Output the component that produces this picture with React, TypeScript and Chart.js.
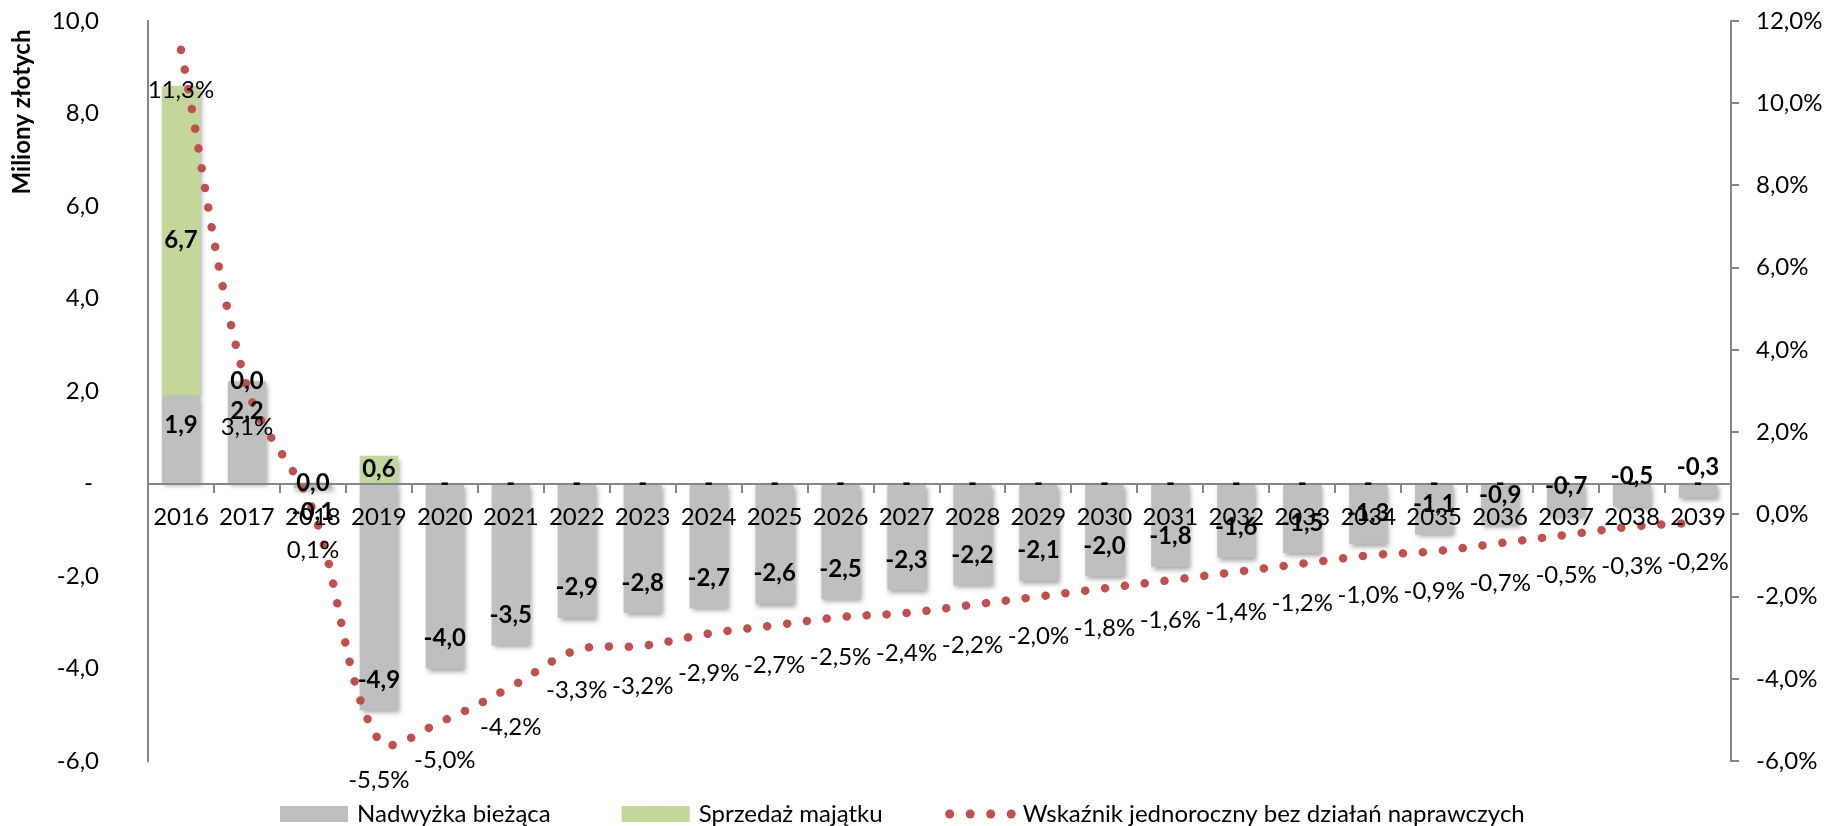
import React, { useEffect, useRef } from 'react';
import { Chart, registerables } from 'chart.js';

Chart.register(...registerables);

const years = ['2016', '2017', '2018', '2019', '2020', '2021', '2022', '2023', '2024', '2025', '2026', '2027', '2028', '2029', '2030', '2031', '2032', '2033', '2034', '2035', '2036', '2037', '2038', '2039'];
const currentSurplus = [1.9, 2.2, -0.1, -4.9, -4.0, -3.5, -2.9, -2.8, -2.7, -2.6, -2.5, -2.3, -2.2, -2.1, -2.0, -1.8, -1.6, -1.5, -1.3, -1.1, -0.9, -0.7, -0.5, -0.3];
const assetSales = [6.7, 0.02, 0.02, 0.6, 0, 0, 0, 0, 0, 0, 0, 0, 0, 0, 0, 0, 0, 0, 0, 0, 0, 0, 0, 0];
const oneYearIndicator = [11.3, 3.1, 0.1, -5.5, -5.0, -4.2, -3.3, -3.2, -2.9, -2.7, -2.5, -2.4, -2.2, -2.0, -1.8, -1.6, -1.4, -1.2, -1.0, -0.9, -0.7, -0.5, -0.3, -0.2];
const seriesNames = ['Nadwyżka bieżąca', 'Sprzedaż majątku', 'Wskaźnik jednoroczny bez działań naprawczych'];
const leftAxisTitle = 'Miliony złotych';
const leftRange = [-6, 10];
const rightRange = [-6, 12];
const tickStep = 2;

const FONT = 'Lato, "Open Sans", sans-serif';
const GRAY = '#BFBFBF';
const GREEN = '#C3D69B';
const RED = '#C0504D';
const AXIS = '#868686';

const fmt = (v: number) => {
  const s = v.toFixed(1).replace('.', ',');
  return s === '-0,0' ? '0,0' : s;
};

const shadowPlugin = {
  id: 'barShadow',
  beforeDatasetDraw(chart: any, args: any) {
    if (args.meta.type === 'bar') {
      const ctx = chart.ctx;
      ctx.save();
      ctx.shadowColor = 'rgba(0,0,0,0.35)';
      ctx.shadowBlur = 5;
      ctx.shadowOffsetX = 2;
      ctx.shadowOffsetY = 3;
    }
  },
  afterDatasetDraw(chart: any, args: any) {
    if (args.meta.type === 'bar') chart.ctx.restore();
  },
};

const labelPlugin = {
  id: 'valueLabels',
  afterDraw(chart: any) {
    const ctx = chart.ctx;
    const zeroY = chart.scales.y.getPixelForValue(0);
    ctx.save();
    ctx.textAlign = 'center';
    ctx.textBaseline = 'middle';
    ctx.fillStyle = '#000';

    // line labels
    ctx.font = `24px ${FONT}`;
    chart.getDatasetMeta(2).data.forEach((pt: any, i: number) => {
      ctx.fillText(fmt(oneYearIndicator[i]) + '%', pt.x, pt.y + 40);
    });

    ctx.font = `bold 24px ${FONT}`;
    // gray bar labels (inside end)
    chart.getDatasetMeta(0).data.forEach((bar: any, i: number) => {
      const v = currentSurplus[i];
      const { x, y } = bar.getProps(['x', 'y'], true);
      let ly;
      if (Math.abs(v) < 0.2) ly = v < 0 ? y + 24 : y - 24;
      else ly = v >= 0 ? y + 30 : y - 30;
      ctx.fillText(fmt(v), x, ly);
    });
    // green bar labels (center)
    chart.getDatasetMeta(1).data.forEach((bar: any, i: number) => {
      const v = assetSales[i];
      const { x, y, base } = bar.getProps(['x', 'y', 'base'], true);
      if (v === 0) ctx.fillText('-', x, zeroY);
      else ctx.fillText(fmt(v), x, (y + base) / 2);
    });

    // left axis title
    ctx.save();
    ctx.translate(22, 112);
    ctx.rotate(-Math.PI / 2);
    ctx.font = `bold 24px ${FONT}`;
    ctx.fillText(leftAxisTitle, 0, 0);
    ctx.restore();

    // legend
    const colors = [GRAY, GREEN, RED];
    const symW = 68;
    const symGap = 9;
    const itemGaps = [71, 63];
    ctx.font = `24px ${FONT}`;
    let x = 280;
    const ly = 814;
    seriesNames.forEach((name, i) => {
      ctx.fillStyle = colors[i];
      if (i < 2) {
        ctx.fillRect(x, ly - 8, symW, 16);
      } else {
        for (let k = 0; k < 4; k++) {
          ctx.beginPath();
          ctx.arc(x + 4 + k * 20.5, ly, 4.5, 0, Math.PI * 2);
          ctx.fill();
        }
      }
      ctx.fillStyle = '#000';
      ctx.textAlign = 'left';
      ctx.fillText(name, x + symW + symGap, ly);
      x += symW + symGap + ctx.measureText(name).width + (itemGaps[i] || 0);
    });
    ctx.restore();
  },
};

export default function App() {
  const ref = useRef<HTMLCanvasElement | null>(null);
  useEffect(() => {
    if (!ref.current) return;
    Chart.defaults.font.family = FONT;
    Chart.defaults.font.size = 24;
    Chart.defaults.color = '#000';
    const chart = new Chart(ref.current, {
      type: 'bar',
      data: {
        labels: years,
        datasets: [
          {
            type: 'bar',
            label: seriesNames[0],
            data: currentSurplus,
            backgroundColor: GRAY,
            yAxisID: 'y',
            order: 1,
            barPercentage: 1,
            categoryPercentage: 0.58,
          },
          {
            type: 'bar',
            label: seriesNames[1],
            data: assetSales,
            backgroundColor: GREEN,
            yAxisID: 'y',
            order: 1,
            barPercentage: 1,
            categoryPercentage: 0.58,
          },
          {
            type: 'line',
            label: seriesNames[2],
            data: oneYearIndicator,
            yAxisID: 'y1',
            borderColor: RED,
            borderWidth: 8.5,
            borderDash: [0.1, 19.9],
            borderCapStyle: 'round',
            pointRadius: 0,
            tension: 0.35,
            fill: false,
            order: 0,
          },
        ] as any,
      },
      options: {
        responsive: false,
        animation: false,
        layout: { padding: { top: 21, bottom: 65, left: 0, right: 0 } },
        plugins: { legend: { display: false }, tooltip: { enabled: false }, title: { display: false } },
        scales: {
          x: {
            stacked: true,
            position: { y: 0 } as any,
            grid: { display: true, drawOnChartArea: false, drawTicks: true, tickLength: 8, color: AXIS, lineWidth: 2, offset: true, z: 1 },
            border: { display: true, color: AXIS, width: 2, z: 1 },
            ticks: { padding: 11, maxRotation: 0, autoSkip: false, font: { size: 24 }, color: '#000', z: 1 },
          },
          y: {
            type: 'linear',
            position: 'left',
            stacked: true,
            min: leftRange[0],
            max: leftRange[1],
            afterFit: (s: any) => { s.width = 148; },
            grid: { display: true, drawOnChartArea: false, drawTicks: true, tickLength: 49, tickColor: 'rgba(0,0,0,0)' },
            border: { display: true, color: AXIS, width: 2 },
            ticks: {
              stepSize: tickStep,
              padding: 0,
              font: { size: 24 },
              color: '#000',
              callback: (v: any) => (Number(v) === 0 ? '- ' : fmt(Number(v))),
            },
          },
          y1: {
            type: 'linear',
            position: 'right',
            min: rightRange[0],
            max: rightRange[1],
            afterFit: (s: any) => { s.width = 94; },
            grid: { display: true, drawOnChartArea: false, drawTicks: true, tickLength: 8, color: AXIS, lineWidth: 2 },
            border: { display: true, color: AXIS, width: 2 },
            ticks: {
              stepSize: tickStep,
              padding: 17,
              font: { size: 24, lineHeight: 0.15 },
              color: '#000',
              callback: (v: any) => fmt(Number(v)) + '%',
            },
          },
        },
      } as any,
      plugins: [shadowPlugin, labelPlugin],
    });
    return () => chart.destroy();
  }, []);
  return (
    <div style={{ position: 'absolute', left: 0, top: 0, width: 1825, height: 826, background: '#fff' }}>
      <canvas ref={ref} width={1825} height={826} style={{ display: 'block' }} />
    </div>
  );
}
